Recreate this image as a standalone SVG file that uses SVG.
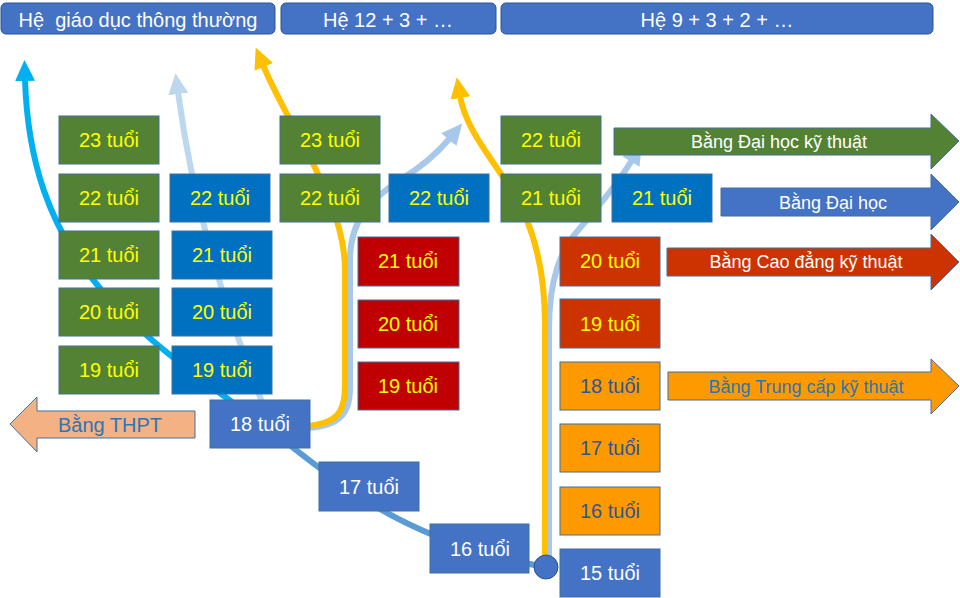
<svg xmlns="http://www.w3.org/2000/svg" width="960" height="598" viewBox="0 0 960 598">
<style>
text{font-family:"Liberation Sans",Arial,sans-serif;font-size:20px;text-anchor:middle}
.box{stroke:#41719C;stroke-width:1}
.hdr{fill:#4472C4;stroke:#2F528F;stroke-width:1}
.g{fill:#548235}.b{fill:#0070C0}.m{fill:#4472C4}.r{fill:#C00000}.o{fill:#CC3300}.y{fill:#FF9900}.p{fill:#F4B183}
.ty{fill:#FFFF00}.tw{fill:#FFFFFF}.tb{fill:#2F5597}.tl{fill:#2E75B6}
.ar text{font-size:18px}
.ln{fill:none;stroke-width:6;stroke-linecap:butt}
</style>
<defs>
<marker id="hC" markerUnits="userSpaceOnUse" markerWidth="24" markerHeight="24" viewBox="0 -12 24 24" refX="2" refY="0" orient="auto"><path d="M0,-10 L21,0 L0,10 z" fill="#00B0F0"/></marker>
<marker id="hP" markerUnits="userSpaceOnUse" markerWidth="24" markerHeight="24" viewBox="0 -12 24 24" refX="2" refY="0" orient="auto"><path d="M0,-10 L21,0 L0,10 z" fill="#BDD7EE"/></marker>
<marker id="hL" markerUnits="userSpaceOnUse" markerWidth="24" markerHeight="24" viewBox="0 -12 24 24" refX="2" refY="0" orient="auto"><path d="M0,-10 L21,0 L0,10 z" fill="#A7C8EA"/></marker>
<marker id="hY" markerUnits="userSpaceOnUse" markerWidth="24" markerHeight="24" viewBox="0 -12 24 24" refX="2" refY="0" orient="auto"><path d="M0,-10 L21,0 L0,10 z" fill="#FFC000"/></marker>
</defs>

<g id="headers">
<g id="h1"><rect class="hdr" x="1" y="3" width="274" height="31" rx="5"/><text class="tw" x="138" y="27" xml:space="preserve">Hệ  giáo dục thông thường</text></g>
<g id="h2"><rect class="hdr" x="281" y="3" width="215" height="31" rx="5"/><text class="tw" x="388" y="27">Hệ 12 + 3 + …</text></g>
<g id="h3"><rect class="hdr" x="501" y="3" width="432" height="31" rx="5"/><text class="tw" x="717" y="27">Hệ 9 + 3 + 2 + …</text></g>
</g>

<g id="connectors">
<path class="ln" stroke="#5B9BD5" d="M546 567 C470 555 400 525 350 490 S290 445 265 425"/>
<path class="ln" stroke="#00B0F0" d="M232 402 C120 320 30 250 25 79" marker-end="url(#hC)"/>
<path class="ln" stroke="#BDD7EE" d="M262 402 C230 320 195 220 178 92" marker-end="url(#hP)"/>
<path class="ln" stroke="#A7C8EA" d="M308 428 C338 426 350 415 350 388 L350 260 C350 220 370 200 400 180 C425 165 440 150 450 138" marker-end="url(#hL)"/>
<path class="ln" stroke="#FFC000" d="M308 426 C335 423 345 415 345 385 L345 270 C345 200 290 130 263 65" marker-end="url(#hY)"/>
<path class="ln" stroke="#A7C8EA" d="M549 562 L549 330 C549 280 560 250 580 228 C600 205 620 180 632 160" marker-end="url(#hL)"/>
<path class="ln" stroke="#FFC000" d="M545 562 L545 325 C545 260 530 215 505 180 C485 150 465 125 460 96" marker-end="url(#hY)"/>
</g>

<g id="col1">
<g id="g23a"><rect class="box g" x="59" y="116" width="100" height="48"/><text class="ty" x="109" y="147">23 tuổi</text></g>
<g id="g22a"><rect class="box g" x="59" y="174" width="100" height="48"/><text class="ty" x="109" y="205">22 tuổi</text></g>
<g id="g21a"><rect class="box g" x="59" y="231" width="100" height="48"/><text class="ty" x="109" y="262">21 tuổi</text></g>
<g id="g20a"><rect class="box g" x="59" y="288" width="100" height="48"/><text class="ty" x="109" y="319">20 tuổi</text></g>
<g id="g19a"><rect class="box g" x="59" y="346" width="100" height="48"/><text class="ty" x="109" y="377">19 tuổi</text></g>
</g>

<g id="col2">
<g id="b22a"><rect class="box b" x="170" y="174" width="100" height="48"/><text class="ty" x="220" y="205">22 tuổi</text></g>
<g id="b21a"><rect class="box b" x="172" y="231" width="100" height="48"/><text class="ty" x="222" y="262">21 tuổi</text></g>
<g id="b20a"><rect class="box b" x="172" y="288" width="100" height="48"/><text class="ty" x="222" y="319">20 tuổi</text></g>
<g id="b19a"><rect class="box b" x="172" y="346" width="100" height="48"/><text class="ty" x="222" y="377">19 tuổi</text></g>
</g>

<g id="age18"><rect class="box m" x="210" y="400" width="100" height="48"/><text class="tw" x="260" y="431">18 tuổi</text></g>
<g id="age17"><rect class="box m" x="319" y="462" width="100" height="49"/><text class="tw" x="369" y="494">17 tuổi</text></g>
<g id="age16"><rect class="box m" x="430" y="524" width="99" height="49"/><text class="tw" x="480" y="556">16 tuổi</text></g>
<g id="age15"><rect class="box m" x="560" y="549" width="100" height="48"/><text class="tw" x="610" y="580">15 tuổi</text></g>

<g id="col3">
<g id="g23b"><rect class="box g" x="280" y="116" width="100" height="48"/><text class="ty" x="330" y="147">23 tuổi</text></g>
<g id="g22b"><rect class="box g" x="280" y="174" width="100" height="48"/><text class="ty" x="330" y="205">22 tuổi</text></g>
<g id="b22b"><rect class="box b" x="389" y="174" width="100" height="48"/><text class="ty" x="439" y="205">22 tuổi</text></g>
<g id="r21"><rect class="box r" x="358" y="237" width="101" height="49"/><text class="ty" x="408" y="268">21 tuổi</text></g>
<g id="r20"><rect class="box r" x="358" y="300" width="101" height="48"/><text class="ty" x="408" y="331">20 tuổi</text></g>
<g id="r19"><rect class="box r" x="358" y="362" width="101" height="48"/><text class="ty" x="408" y="393">19 tuổi</text></g>
</g>

<g id="col4">
<g id="g22c"><rect class="box g" x="501" y="116" width="100" height="48"/><text class="ty" x="551" y="147">22 tuổi</text></g>
<g id="g21c"><rect class="box g" x="501" y="174" width="100" height="48"/><text class="ty" x="551" y="205">21 tuổi</text></g>
<g id="b21c"><rect class="box b" x="612" y="174" width="100" height="48"/><text class="ty" x="662" y="205">21 tuổi</text></g>
<g id="o20"><rect class="box o" x="560" y="237" width="100" height="49"/><text class="ty" x="610" y="268">20 tuổi</text></g>
<g id="o19"><rect class="box o" x="560" y="299" width="100" height="49"/><text class="ty" x="610" y="331">19 tuổi</text></g>
<g id="y18"><rect class="box y" x="560" y="362" width="100" height="48"/><text class="tb" x="610" y="393">18 tuổi</text></g>
<g id="y17"><rect class="box y" x="560" y="424" width="100" height="48"/><text class="tb" x="610" y="455">17 tuổi</text></g>
<g id="y16"><rect class="box y" x="560" y="487" width="100" height="48"/><text class="tb" x="610" y="518">16 tuổi</text></g>
</g>

<circle id="start" cx="546" cy="567" r="12" fill="#4472C4" stroke="#2F528F" stroke-width="1"/>

<g id="thpt"><polygon class="box p" points="10,424 37,397 37,411 195,411 195,438 37,438 37,452"/><text class="tl" x="110" y="432">Bằng THPT</text></g>

<g class="ar">
<g id="dhkt"><polygon class="box g" points="614,128 931,128 931,114 959,141 931,169 931,155 614,155"/><text class="tw" x="779" y="148">Bằng Đại học kỹ thuật</text></g>
<g id="dh"><polygon class="box m" points="721,188 931,188 931,174 959,202 931,230 931,216 721,216"/><text class="tw" x="833" y="209">Bằng Đại học</text></g>
<g id="cdkt"><polygon class="box o" points="667,248 931,248 931,234 959,262 931,290 931,276 667,276"/><text class="tw" x="806" y="268">Bằng Cao đẳng kỹ thuật</text></g>
<g id="tckt"><polygon class="box y" points="668,372 931,372 931,359 959,386 931,414 931,400 668,400"/><text class="tl" x="806" y="393">Bằng Trung cấp kỹ thuật</text></g>
</g>
</svg>
